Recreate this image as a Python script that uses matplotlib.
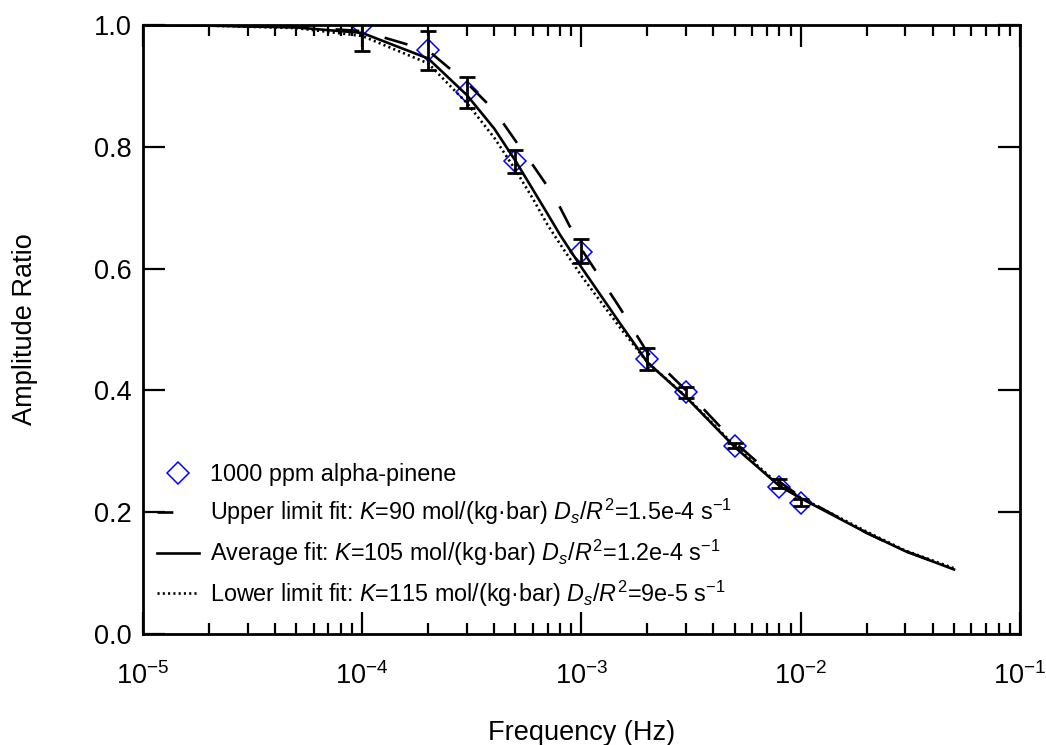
import matplotlib
matplotlib.use('Agg')
import matplotlib.pyplot as plt

plt.rcParams['font.family'] = ['Liberation Sans', 'DejaVu Sans']
plt.rcParams['mathtext.fontset'] = 'custom'
plt.rcParams['mathtext.rm'] = 'Liberation Sans'
plt.rcParams['mathtext.it'] = 'Liberation Sans:italic'
plt.rcParams['mathtext.bf'] = 'Liberation Sans:bold'

# measured points (1000 ppm alpha-pinene)
freq = [1e-4, 2e-4, 3e-4, 5e-4, 1e-3, 2e-3, 3e-3, 5e-3, 8e-3, 1e-2]
amp = [1.0, 0.959, 0.890, 0.776, 0.628, 0.452, 0.397, 0.309, 0.241, 0.215]

# error bars (mean +- err)
err_mean = [0.985, 0.958, 0.889, 0.776, 0.629, 0.451, 0.397, 0.309, 0.247, 0.216]
err_size = [0.028, 0.032, 0.026, 0.019, 0.020, 0.018, 0.009, 0.004, 0.007, 0.005]

# model fits
fit_freq = [1e-5, 2e-5, 5e-5, 1e-4, 2e-4, 3e-4, 4e-4, 5e-4, 6e-4, 7e-4, 8e-4,
            1e-3, 1.5e-3, 2e-3, 3e-3, 5e-3, 8e-3, 1e-2, 2e-2, 3e-2, 5e-2]
fit_upper = [1.0, 0.999, 0.997, 0.990, 0.958, 0.905, 0.860, 0.810, 0.770, 0.735, 0.700,
             0.632, 0.535, 0.462, 0.400, 0.315, 0.250, 0.225, 0.166, 0.136, 0.107]
fit_avg = [1.0, 0.999, 0.996, 0.987, 0.945, 0.885, 0.830, 0.777, 0.730, 0.690, 0.655,
           0.602, 0.510, 0.446, 0.389, 0.307, 0.243, 0.223, 0.166, 0.136, 0.106]
fit_lower = [1.0, 0.999, 0.995, 0.982, 0.937, 0.872, 0.815, 0.762, 0.715, 0.672, 0.640,
             0.588, 0.503, 0.446, 0.390, 0.309, 0.245, 0.224, 0.168, 0.137, 0.108]

labels = ['1000 ppm alpha-pinene',
          'Upper limit fit: $K$=90 mol/(kg·bar) $D_s$/$R^2$=1.5e-4 s$^{-1}$',
          'Average fit: $K$=105 mol/(kg·bar) $D_s$/$R^2$=1.2e-4 s$^{-1}$',
          'Lower limit fit: $K$=115 mol/(kg·bar) $D_s$/$R^2$=9e-5 s$^{-1}$']

fig = plt.figure(figsize=(10.46, 7.45), dpi=100)
ax = fig.add_axes([0.1367, 0.149, 0.8384, 0.8174])

ax.plot(freq, amp, linestyle='none', marker='D', markersize=11.5,
        markerfacecolor='none', markeredgecolor='#0000ff', markeredgewidth=1.1,
        label=labels[0], zorder=2)
ax.errorbar(freq, err_mean, yerr=err_size, fmt='none', ecolor='black',
            elinewidth=2.0, capsize=6, capthick=2.0, zorder=3)
ax.plot(fit_freq, fit_upper, color='black', lw=1.9, linestyle=(3, (9, 10)),
        label=labels[1], zorder=4)
ax.plot(fit_freq, fit_avg, color='black', lw=1.9, linestyle='-',
        label=labels[2], zorder=4)
ax.plot(fit_freq, fit_lower, color='black', lw=1.9, linestyle=(0, (0.8, 1.2)),
        label=labels[3], zorder=4)

ax.set_xscale('log')
ax.set_xlim(1e-5, 1e-1)
ax.set_ylim(0, 1.0)
ax.set_yticks([0.0, 0.2, 0.4, 0.6, 0.8, 1.0])
ax.set_yticklabels(['0.0', '0.2', '0.4', '0.6', '0.8', '1.0'])

ax.tick_params(which='both', direction='in', top=True, right=True, width=1.6)
ax.tick_params(which='major', length=15.5, labelsize=19.5)
ax.tick_params(axis='x', which='major', pad=20)
ax.tick_params(axis='y', which='major', pad=8)
ax.tick_params(which='minor', length=8)
for sp in ax.spines.values():
    sp.set_linewidth(2.0)

ax.set_xlabel('Frequency (Hz)', fontsize=19.5, labelpad=22)
ax.set_ylabel('Amplitude Ratio', fontsize=19.5, labelpad=40)

ax.legend(loc='upper left', bbox_to_anchor=(0.016, 0.28), frameon=False,
          fontsize=16.8, handlelength=1.8, handletextpad=0.45,
          labelspacing=0.45, borderpad=0, borderaxespad=0)

fig.savefig('out.png', dpi=100)
